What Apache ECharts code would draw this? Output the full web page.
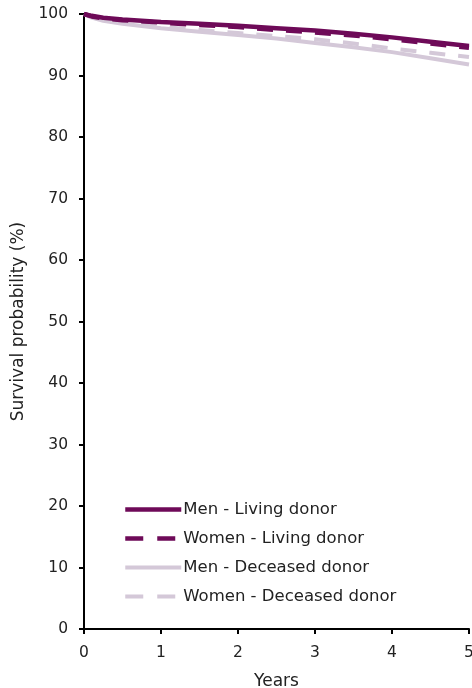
<!DOCTYPE html>
<html><head><meta charset="utf-8">
<script src="https://cdn.jsdelivr.net/npm/echarts@6/dist/echarts.min.js"></script>
<style>html,body{margin:0;padding:0;background:#fff;overflow:hidden}#c{width:472px;height:688px}</style>
</head><body><div id="c"></div>
<script>
const years = [0, 0.1, 0.25, 0.5, 1, 1.5, 2, 2.5, 3, 3.5, 4, 4.5, 5];
const menLiving = [100, 99.7, 99.4, 99.1, 98.7, 98.4, 98.1, 97.7, 97.3, 96.8, 96.2, 95.5, 94.8];
const womenLiving = [100, 99.6, 99.3, 99.0, 98.6, 98.2, 97.9, 97.4, 97.0, 96.5, 95.9, 95.2, 94.5];
const menDeceased = [100, 99.4, 98.9, 98.4, 97.7, 97.1, 96.6, 96.0, 95.3, 94.6, 93.8, 92.8, 91.8];
const womenDeceased = [100, 99.5, 99.0, 98.6, 97.9, 97.4, 96.9, 96.4, 95.9, 95.2, 94.4, 93.7, 93.0];
const seriesNames = ['Men - Living donor', 'Women - Living donor', 'Men - Deceased donor', 'Women - Deceased donor'];
const xTicks = [0, 1, 2, 3, 4, 5];
const yTicks = [0, 10, 20, 30, 40, 50, 60, 70, 80, 90, 100];

const dark = '#6e0a58', light = '#d4c8d8';
const font = 'DejaVu Sans, Verdana, sans-serif';
const pair = ys => years.map((x, i) => [x, ys[i]]);
const styles = [
  { color: dark, dashed: false, w: 4.5 },
  { color: dark, dashed: true, w: 4.5 },
  { color: light, dashed: false, w: 4 },
  { color: light, dashed: true, w: 4 }
];
const values = [menLiving, womenLiving, menDeceased, womenDeceased];
function mk(i, z) {
  const s = styles[i];
  return {
    name: seriesNames[i], type: 'line', data: pair(values[i]), symbol: 'none', z,
    lineStyle: { color: s.color, width: s.w, type: s.dashed ? [16, 13] : 'solid' },
    itemStyle: { color: s.color }
  };
}
const chart = echarts.init(document.getElementById('c'), null, { renderer: 'canvas', width: 472, height: 688 });
chart.setOption({
  animation: false,
  textStyle: { fontFamily: font },
  grid: { left: 84, right: 3, top: 14, bottom: 59, containLabel: false, outerBoundsMode: 'none' },
  legend: {
    orient: 'vertical', left: 118, top: 496,
    itemWidth: 56, itemHeight: 20, itemGap: 12,
    textStyle: { fontFamily: font, fontSize: 16.5, color: '#222', padding: [0, 0, 0, -3] },
    data: seriesNames.map((n, i) => ({
      name: n,
      lineStyle: { color: styles[i].color, width: styles[i].w, type: styles[i].dashed ? [18, 14] : 'solid' },
      itemStyle: { color: 'rgba(0,0,0,0)', borderWidth: 0, opacity: 0 }
    }))
  },
  xAxis: {
    type: 'value', min: 0, max: 5, interval: 1,
    name: 'Years', nameLocation: 'middle', nameGap: 44,
    nameTextStyle: { fontFamily: font, fontSize: 17, color: '#222' },
    axisLine: { lineStyle: { color: '#000', width: 2 } },
    axisTick: { inside: false, length: 5, lineStyle: { color: '#000', width: 2 } },
    axisLabel: { fontFamily: font, fontSize: 15.5, color: '#222', margin: 16,
      formatter: v => xTicks.includes(v) ? String(v) : '' },
    splitLine: { show: false }
  },
  yAxis: {
    type: 'value', min: 0, max: 100, interval: 10,
    name: 'Survival probability (%)', nameLocation: 'middle', nameGap: 50,
    nameTextStyle: { fontFamily: font, fontSize: 17, color: '#222' },
    axisLine: { lineStyle: { color: '#000', width: 2 } },
    axisTick: { inside: false, length: 5, lineStyle: { color: '#000', width: 2 } },
    axisLabel: { fontFamily: font, fontSize: 15.5, color: '#222', margin: 16,
      formatter: v => yTicks.includes(v) ? String(v) : '' },
    splitLine: { show: false }
  },
  series: [mk(2, 2), mk(3, 3), mk(0, 4), mk(1, 5)]
});
</script></body></html>
